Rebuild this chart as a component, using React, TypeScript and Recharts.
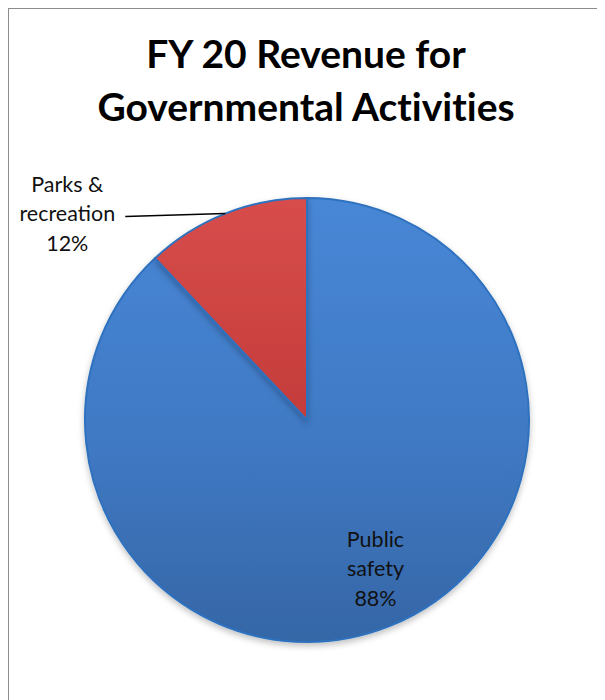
import React from 'react';
import { PieChart, Pie, Cell } from 'recharts';

const categories = ['Public safety', 'Parks & recreation'];
const shares = [88, 12];
const sliceColors = ['url(#blueFill)', 'url(#redFill)'];
const labelLines = [
    ['Public', 'safety', '88%'],
    ['Parks &', 'recreation', '12%'],
];

const RAD = Math.PI / 180;
const FONT = 'Lato, "Open Sans", sans-serif';

function SliceLabel(props: any) {
    const { cx, cy, midAngle, outerRadius, index } = props;
    const lines = labelLines[index];
    const cos = Math.cos(-midAngle * RAD);
    const sin = Math.sin(-midAngle * RAD);

    if (index === 0) {
        // inside label
        const r = outerRadius * 0.74;
        const x = cx + r * cos + 8;
        const y = cy + r * sin;
        return (
            <text x={x} y={y - 30} textAnchor="middle" fontFamily={FONT} fontSize={21.5} fill="#111">
                {lines.map((l, i) => (
                    <tspan key={i} x={x} dy={i === 0 ? 4 : 29.5}>{l}</tspan>
                ))}
            </text>
        );
    }

    // outside label with a leader line
    const ex = cx + outerRadius * cos;
    const ey = cy + outerRadius * sin;
    const lx = ex - 100;
    const ly = ey + 3;
    const tx = lx - 58;
    return (
        <g>
            <line x1={ex} y1={ey} x2={lx} y2={ly} stroke="#000" strokeWidth={1.5} />
            <text x={tx} y={ly - 30} textAnchor="middle" fontFamily={FONT} fontSize={21.5} fill="#111">
                {lines.map((l, i) => (
                    <tspan key={i} x={tx} dy={i === 0 ? 5 : 29.5}>{l}</tspan>
                ))}
            </text>
        </g>
    );
}

export default function App() {
    const data = categories.map((name, i) => ({ name, value: shares[i] }));

    return (
        <div
            style={{
                position: 'relative',
                width: 594,
                height: 710,
                border: '1px solid #8c8c8c',
                background: '#fff',
            }}
        >
            <div
                style={{
                    position: 'absolute',
                    left: 0,
                    top: 18,
                    width: 594,
                    textAlign: 'center',
                    fontFamily: FONT,
                    fontWeight: 'bold',
                    fontSize: 39,
                    lineHeight: '53px',
                    color: '#000',
                    fontVariantLigatures: 'none',
                }}
            >
                FY 20 Revenue for
                <br />
                Governmental Activities
            </div>
            <div style={{ position: 'absolute', left: 0, top: 0 }}>
                <PieChart width={594} height={700}>
                    <defs>
                        <linearGradient id="blueFill" x1="0" y1="0" x2="0" y2="1">
                            <stop offset="0%" stopColor="#4787d6" />
                            <stop offset="55%" stopColor="#4079c4" />
                            <stop offset="100%" stopColor="#3566a6" />
                        </linearGradient>
                        <linearGradient id="redFill" x1="0" y1="0" x2="0" y2="1">
                            <stop offset="0%" stopColor="#d74d4b" />
                            <stop offset="100%" stopColor="#c43c3a" />
                        </linearGradient>
                        <filter id="pieShadow" x="-10%" y="-10%" width="120%" height="120%">
                            <feDropShadow dx="0" dy="3" stdDeviation="3" floodColor="#000" floodOpacity="0.25" />
                        </filter>
                    </defs>
                    <Pie
                        data={data}
                        dataKey="value"
                        nameKey="name"
                        cx={293}
                        cy={406}
                        outerRadius={222}
                        startAngle={90}
                        endAngle={-270}
                        stroke="#2f72bf"
                        strokeWidth={2}
                        labelLine={false}
                        label={SliceLabel}
                        isAnimationActive={false}
                        style={{ filter: 'url(#pieShadow)' }}
                    >
                        {data.map((d, i) => (
                            <Cell key={d.name} fill={sliceColors[i]} />
                        ))}
                    </Pie>
                </PieChart>
            </div>
        </div>
    );
}
